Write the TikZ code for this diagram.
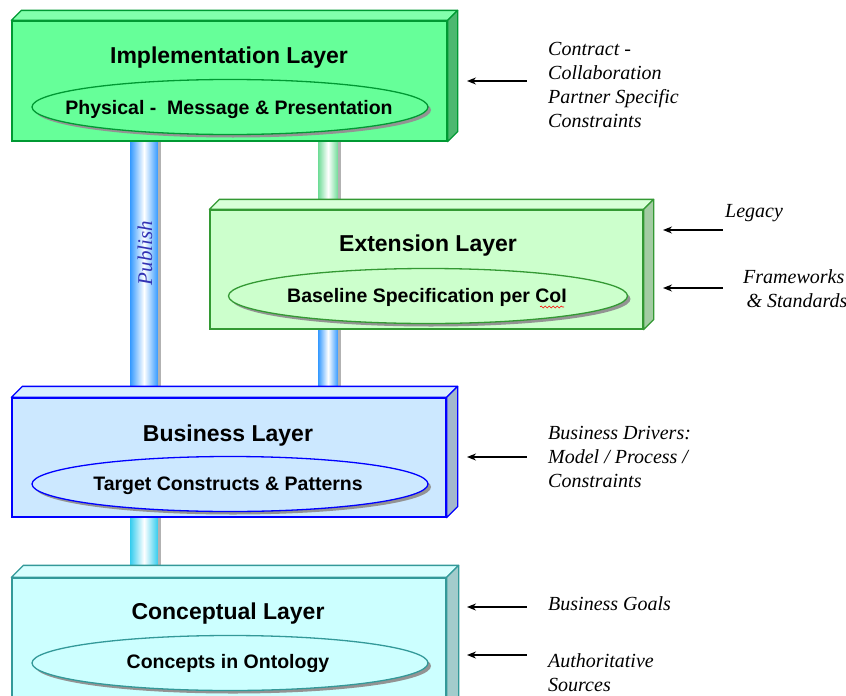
\documentclass[tikz,border=0pt]{standalone}
\usepackage{fontspec}
\setmainfont{Liberation Serif}
\setsansfont{Liberation Sans}
\usetikzlibrary{shapes.geometric,arrows.meta,shadows,decorations.pathmorphing}
\definecolor{implF}{RGB}{102,255,153}
\definecolor{implT}{RGB}{130,255,172}
\definecolor{implS}{RGB}{77,184,112}
\definecolor{implB}{RGB}{0,153,51}
\definecolor{extF}{RGB}{204,255,204}
\definecolor{extT}{RGB}{216,255,216}
\definecolor{extS}{RGB}{163,204,163}
\definecolor{extB}{RGB}{51,153,51}
\definecolor{busF}{RGB}{204,232,255}
\definecolor{busT}{RGB}{216,238,255}
\definecolor{busS}{RGB}{163,184,204}
\definecolor{busB}{RGB}{0,0,255}
\definecolor{conF}{RGB}{204,255,255}
\definecolor{conT}{RGB}{216,255,255}
\definecolor{conS}{RGB}{163,204,204}
\definecolor{conB}{RGB}{51,153,153}
\definecolor{pipeBlue}{RGB}{51,153,255}
\definecolor{pipeGreen}{RGB}{110,220,150}
\definecolor{pipeCyan}{RGB}{51,204,238}
\definecolor{pubText}{RGB}{50,50,180}
\newcommand\layerfaces[5]{%
  \filldraw[fill=#2, draw=#4, line width=1.3pt, line join=round]
    (#1.north west) -- ++(#5,-#5) -- ([shift={(#5,-#5)}]#1.north east) -- (#1.north east) -- cycle;
  \filldraw[fill=#3, draw=#4, line width=1.3pt, line join=round]
    (#1.north east) -- ++(#5,-#5) -- ([shift={(#5,-#5)}]#1.south east) -- (#1.south east) -- cycle;}
\newcommand\pipeshape[5]{%
  \shade[left color=#5, right color=#5, middle color=white] (#1,#2) rectangle (#3,#4);
  \fill[gray!60] (#3,#2) rectangle ([xshift=3pt]#3,#4);}
\tikzset{
  front/.style={draw, line width=1.3pt, rectangle, inner sep=0pt},
  title/.style={font=\sffamily\bfseries\fontsize{23}{27}\selectfont, inner sep=0pt, anchor=base},
  oval/.style={ellipse, draw, line width=1.3pt,
    minimum width=396pt, minimum height=55pt, inner sep=0pt,
    drop shadow={shadow xshift=3pt, shadow yshift=-3pt, fill=gray!85, opacity=1}},
  ovaltext/.style={font=\sffamily\bfseries\fontsize{19.5}{23}\selectfont, inner sep=0pt, anchor=base},
  note/.style={font=\itshape\fontsize{20}{24}\selectfont, align=left, anchor=west, inner sep=0pt},
  arr/.style={{Stealth[length=9pt,width=7pt]}-, line width=1.3pt},
}
\begin{document}
\begin{tikzpicture}[x=1pt,y=-1pt]
\useasboundingbox (0,0) rectangle (846,696);
\fill[white] (0,0) rectangle (846,696);
\begin{scope}
\clip (0,0) rectangle (846,696);
% pipes
\pipeshape{130}{141}{158}{398}{pipeBlue}
\pipeshape{318}{141}{338}{210}{pipeGreen}
\pipeshape{318}{329}{338}{398}{pipeBlue}
\pipeshape{130}{517}{158}{578}{pipeCyan}
% Implementation layer
\node[front, fill=implF, draw=implB, minimum width=435pt, minimum height=120pt] (impl) at (229.5,81) {};
\layerfaces{impl}{implT}{implS}{implB}{10}
\node[title] (implT) at (229,63) {Implementation Layer};
\node[oval, fill=implF, draw=implB] (implO) at (230,107) {};
\node[ovaltext] (implL) at (229,114) {Physical -\ \ Message \& Presentation};
% Extension layer
\node[front, fill=extF, draw=extB, minimum width=433pt, minimum height=119pt] (ext) at (426.5,269.5) {};
\layerfaces{ext}{extT}{extS}{extB}{10}
\node[title] (extT) at (428,251) {Extension Layer};
\node[oval, fill=extF, draw=extB, minimum width=399pt] (extO) at (428,296) {};
\node[ovaltext] (extL) at (427,302) {Baseline Specification per CoI};
\draw[red, line width=0.6pt, decorate, decoration={snake, segment length=4pt, amplitude=1pt}] (540,307) -- (564,307);
% Business layer
\node[front, fill=busF, draw=busB, minimum width=434pt, minimum height=119pt] (bus) at (229,457.5) {};
\layerfaces{bus}{busT}{busS}{busB}{11}
\node[title] (busT) at (228,441) {Business Layer};
\node[oval, fill=busF, draw=busB] (busO) at (230,484) {};
\node[ovaltext] (busL) at (228,490) {Target Constructs \& Patterns};
% Conceptual layer
\node[front, fill=conF, draw=conB, minimum width=434pt, minimum height=142pt] (con) at (229,649) {};
\layerfaces{con}{conT}{conS}{conB}{12}
\node[title] (conT) at (228,619) {Conceptual Layer};
\node[oval, fill=conF, draw=conB] (conO) at (230,663) {};
\node[ovaltext] (conL) at (228,668) {Concepts in Ontology};
\end{scope}
% Publish label
\node[rotate=90, font=\itshape\fontsize{21}{24}\selectfont, text=pubText, inner sep=0pt] (pub) at (145,253) {Publish};
% annotations
\node[note] (n1) at (548,85) {Contract -\\Collaboration\\Partner Specific\\Constraints};
\node[note] (n2) at (725,213) {Legacy};
\node[note] (n3) at (743,288.5) {Frameworks\\\,\& Standards};
\node[note] (n4) at (548,457) {Business Drivers:\\Model / Process /\\Constraints};
\node[note] (n5) at (548,604) {Business Goals};
\node[note] (n6) at (548,673) {Authoritative\\Sources};
% arrows
\coordinate (a1s) at (527,81);  \coordinate (a1e) at (467,81);
\coordinate (a2s) at (723,230); \coordinate (a2e) at (663,230);
\coordinate (a3s) at (723,288); \coordinate (a3e) at (663,288);
\coordinate (a4s) at (527,457); \coordinate (a4e) at (467,457);
\coordinate (a5s) at (527,607); \coordinate (a5e) at (467,607);
\coordinate (a6s) at (527,655); \coordinate (a6e) at (467,655);
\draw[arr] (a1e) -- (a1s);
\draw[arr] (a2e) -- (a2s);
\draw[arr] (a3e) -- (a3s);
\draw[arr] (a4e) -- (a4s);
\draw[arr] (a5e) -- (a5s);
\draw[arr] (a6e) -- (a6s);
\end{tikzpicture}
\end{document}
